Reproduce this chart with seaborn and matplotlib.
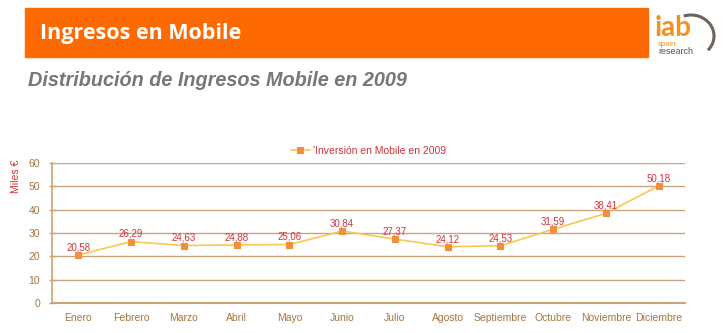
import matplotlib
matplotlib.use("Agg")
import matplotlib.pyplot as plt
import seaborn as sns
import pandas as pd
from matplotlib.patches import Rectangle, Arc

months = ["Enero", "Febrero", "Marzo", "Abril", "Mayo", "Junio", "Julio",
          "Agosto", "Septiembre", "Octubre", "Noviembre", "Diciembre"]
values = [20.58, 26.29, 24.63, 24.88, 25.06, 30.84, 27.37, 24.12, 24.53, 31.59, 38.41, 50.18]
labels = ["20,58", "26,29", "24,63", "24,88", "25,06", "30,84", "27,37", "24,12", "24,53", "31,59", "38,41", "50,18"]
series_name = "'Inversión en Mobile en 2009"
yticks = [0, 10, 20, 30, 40, 50, 60]

df = pd.DataFrame({"mes": months, "valor": values})
df["pos"] = range(len(months))

sns.set_theme(style="white")
plt.rcParams['font.family'] = ['Liberation Sans', 'DejaVu Sans']

W, H = 723, 333
fig = plt.figure(figsize=(W / 100, H / 100), dpi=100)

# Banner
fig.patches.append(Rectangle((25 / W, 1 - 57 / H), (648 - 25) / W, (57 - 8) / H,
                             transform=fig.transFigure, color="#ff6a00", zorder=0))
fig.text(40 / W, 1 - 33 / H, "Ingresos en Mobile", color="white", fontsize=15.5,
         fontweight="bold", va="center", ha="left", family=["Open Sans", "DejaVu Sans"])
# Logo
fig.text(655 / W, 1 - 28 / H, "iab", color="#f39020", fontsize=20, va="center", ha="left",
         family=["Lato", "DejaVu Sans"], fontweight="bold")
fig.text(658 / W, 1 - 45 / H, "spain", color="#f39020", fontsize=5.5, va="center", ha="left")
fig.text(658 / W, 1 - 52 / H, "research", color="#555555", fontsize=6.5, va="center", ha="left")
axl = fig.add_axes([655 / W, 1 - 58 / H, 62 / W, 48 / H])
axl.set_xlim(0, 62); axl.set_ylim(0, 48); axl.axis("off")
axl.add_patch(Arc((36, 22), 46, 42, theta1=-40, theta2=110, color="#6d655c", lw=2.2))

fig.text(28 / W, 1 - 80 / H, "Distribución de Ingresos Mobile en 2009", color="#777777",
         fontsize=14.3, fontweight="bold", fontstyle="italic", va="center", ha="left")

# Chart
ax = fig.add_axes([52 / W, 1 - 303 / H, (685 - 52) / W, (303 - 163) / H])
grid_c = "#c9a47a"
tick_c = "#a8743e"
for y in yticks[1:]:
    ax.axhline(y, color=grid_c, lw=1.0, zorder=0)

sns.lineplot(data=df, x="pos", y="valor", ax=ax, color="#f8c850", lw=1.2,
             marker="s", markersize=5, markerfacecolor="#f0903a", markeredgecolor="#f0903a",
             label=series_name, zorder=3)

for x, y, t in zip(df["pos"], values, labels):
    ax.text(x, y + 3.3, t, color="#d0333a", fontsize=7, ha="center", va="center")

ax.set_xlim(-0.5, len(months) - 0.5)
ax.set_ylim(0, 60)
ax.set_yticks(yticks)
ax.set_yticklabels([str(v) for v in yticks], color=tick_c, fontsize=7.5)
ax.set_xticks(range(len(months)))
ax.set_xticklabels(months, color=tick_c, fontsize=7.5)
ax.set_xticks([i - 0.5 for i in range(len(months) + 1)], minor=True)
ax.tick_params(axis="x", which="major", length=0, pad=7)
ax.tick_params(axis="x", which="minor", length=3, color=grid_c, width=1, direction="out")
ax.tick_params(axis="y", length=5, color=grid_c, width=1, pad=6, left=True, direction="inout")
ax.set_xlabel("")
ax.set_ylabel("Miles €", color="#d0333a", fontsize=7.5, labelpad=4,
              family=["Liberation Sans Narrow", "Liberation Sans", "DejaVu Sans"])
ax.yaxis.set_label_coords(-31 / (685 - 52), (303 - 176) / 140)
for s in ["top", "right"]:
    ax.spines[s].set_visible(False)
ax.spines["left"].set_color(grid_c)
ax.spines["bottom"].set_color(grid_c)
ax.spines["left"].set_linewidth(1.2)
ax.spines["bottom"].set_linewidth(1.5)

leg = ax.legend(loc="lower center", bbox_to_anchor=(0.5, 1.02), frameon=False,
                fontsize=7.5, handlelength=1.8, handletextpad=0.3, borderaxespad=0)
for t in leg.get_texts():
    t.set_color("#d0333a")

fig.savefig("out.png", dpi=100)
